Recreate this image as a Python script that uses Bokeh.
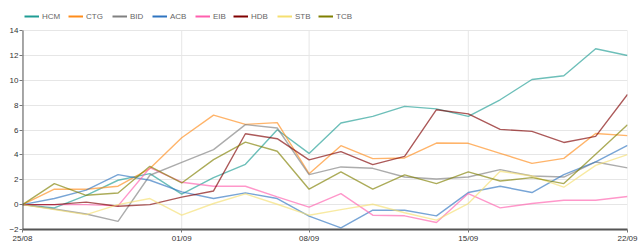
from bokeh.plotting import figure
from bokeh.models import ColumnDataSource, Legend, LegendItem, FixedTicker, Range1d
from bokeh.embed import file_html
from bokeh.resources import INLINE

dates = ["25/08", "26/08", "27/08", "28/08", "29/08", "01/09", "03/09", "04/09", "05/09",
         "08/09", "09/09", "10/09", "11/09", "12/09", "15/09", "16/09", "17/09", "18/09",
         "19/09", "22/09"]
tick_dates = ["25/08", "01/09", "08/09", "15/09", "22/09"]
y_ticks = [-2, 0, 2, 4, 6, 8, 10, 12, 14]

HCM = [0, -0.26, 0.75, 1.96, 2.49, 0.85, 2.17, 3.24, 6.02, 4.12, 6.56, 7.1, 7.9, 7.7, 7.1, 8.43, 10.06, 10.36, 12.53, 11.99]
CTG = [0, 1.24, 1.24, 1.48, 2.9, 5.38, 7.2, 6.45, 6.59, 2.49, 4.74, 3.7, 3.75, 4.95, 4.93, 4.12, 3.32, 3.72, 5.72, 5.55]
BID = [0, -0.35, -0.75, -1.35, 2.36, 3.4, 4.42, 6.43, 6.16, 2.41, 3.03, 2.92, 2.22, 2.06, 2.22, 2.81, 2.3, 2.22, 3.43, 2.95]
ACB = [0, 0.49, 1.16, 2.41, 1.96, 1.02, 0.49, 0.94, 0.49, -0.93, -1.87, -0.45, -0.45, -0.9, 0.97, 1.48, 0.97, 2.41, 3.43, 4.77]
EIB = [0, 0, 0, -0.1, 2.97, 1.8, 1.48, 1.48, 0.62, -0.2, 0.89, -0.85, -0.9, -1.44, 0.89, -0.26, 0.09, 0.35, 0.35, 0.65]
HDB = [0, 0, 0.2, -0.13, 0, 0.6, 1.1, 5.7, 5.3, 3.6, 4.26, 3.22, 3.88, 7.63, 7.3, 6.05, 5.89, 5.0, 5.49, 8.86]
STB = [0, -0.4, -0.8, 0, 0.49, -0.85, 0.09, 0.86, 0.03, -0.85, -0.4, 0.03, -0.65, -1.25, 0.09, 2.68, 2.3, 1.4, 3.16, 4.02]
TCB = [0, 1.69, 0.75, 0.94, 3.08, 1.74, 3.62, 5.03, 4.29, 1.24, 2.63, 1.24, 2.39, 1.69, 2.63, 1.9, 2.17, 1.69, 4.05, 6.43]

series = [("HCM", HCM, "#1f9c94"), ("CTG", CTG, "#ff8c1a"), ("BID", BID, "#808080"),
          ("ACB", ACB, "#2f74c0"), ("EIB", EIB, "#ff5fae"), ("HDB", HDB, "#800000"),
          ("STB", STB, "#f5df70"), ("TCB", TCB, "#7f7f00")]

# horizontal pixel offsets of each legend entry from the left of the plot area
legend_offsets = [2, 46, 90, 130, 173, 211, 255, 296]

x = list(range(len(dates)))
FONT = "Liberation Sans"
NAN = float("nan")

ymin, ymax = y_ticks[0], y_ticks[-1]
# extra headroom (in data units) so the legend sits above the plotting area
head = (ymax - ymin) * 30.0 / 199.0

p = figure(width=640, height=246, output_backend="svg", toolbar_location=None,
           x_range=Range1d(0, len(dates) - 1), y_range=Range1d(ymin, ymax + head),
           min_border_left=22, min_border_right=13, min_border_top=0, min_border_bottom=17)
p.background_fill_color = "white"
p.border_fill_color = "white"
p.outline_line_color = None

tick_idx = [dates.index(d) for d in tick_dates]
n = len(tick_idx)

# vertical grid lines limited to the data area
p.segment(x0=tick_idx, y0=[ymin] * n, x1=tick_idx, y1=[ymax] * n,
          line_color="#e6e6e6", line_width=1)

legend_renderers = []
for name, vals, col in series:
    src = ColumnDataSource(dict(x=x, y=vals))
    p.line("x", "y", source=src, line_color=col, line_width=1.4, line_alpha=0.65)
    dummy = p.line(x=[x[0]], y=[NAN], line_color=col, line_width=2)
    legend_renderers.append((name, dummy))

# left axis line limited to the data area
p.segment(x0=[0], y0=[ymin], x1=[0], y1=[ymax], line_color="#555555", line_width=2)

for (name, r), off in zip(legend_renderers, legend_offsets):
    lg = Legend(items=[LegendItem(label=name, renderers=[r])], orientation="horizontal",
                location=(off, 207),
                glyph_width=15, glyph_height=12, label_height=12, label_standoff=3,
                spacing=0, padding=0, margin=0, border_line_color=None,
                background_fill_alpha=0, label_text_font=FONT,
                label_text_font_size="8px", label_text_color="#666666")
    p.add_layout(lg, "center")

p.xaxis.ticker = FixedTicker(ticks=tick_idx)
p.xaxis.major_label_overrides = {i: d for i, d in zip(tick_idx, tick_dates)}
p.yaxis.ticker = FixedTicker(ticks=y_ticks)

for ax in (p.xaxis, p.yaxis):
    ax.axis_line_color = "#555555"
    ax.axis_line_width = 2
    ax.major_tick_line_color = "#777777"
    ax.major_tick_out = 3
    ax.major_tick_in = 0
    ax.minor_tick_line_color = None
    ax.major_label_text_font = FONT
    ax.major_label_text_font_size = "8px"
    ax.major_label_text_color = "#333333"
    ax.major_label_standoff = 1
p.yaxis.axis_line_color = None

p.xgrid.visible = False
p.ygrid.grid_line_color = "#e6e6e6"
p.ygrid.ticker = FixedTicker(ticks=y_ticks)

open("out.html", "w").write(file_html(p, INLINE))
